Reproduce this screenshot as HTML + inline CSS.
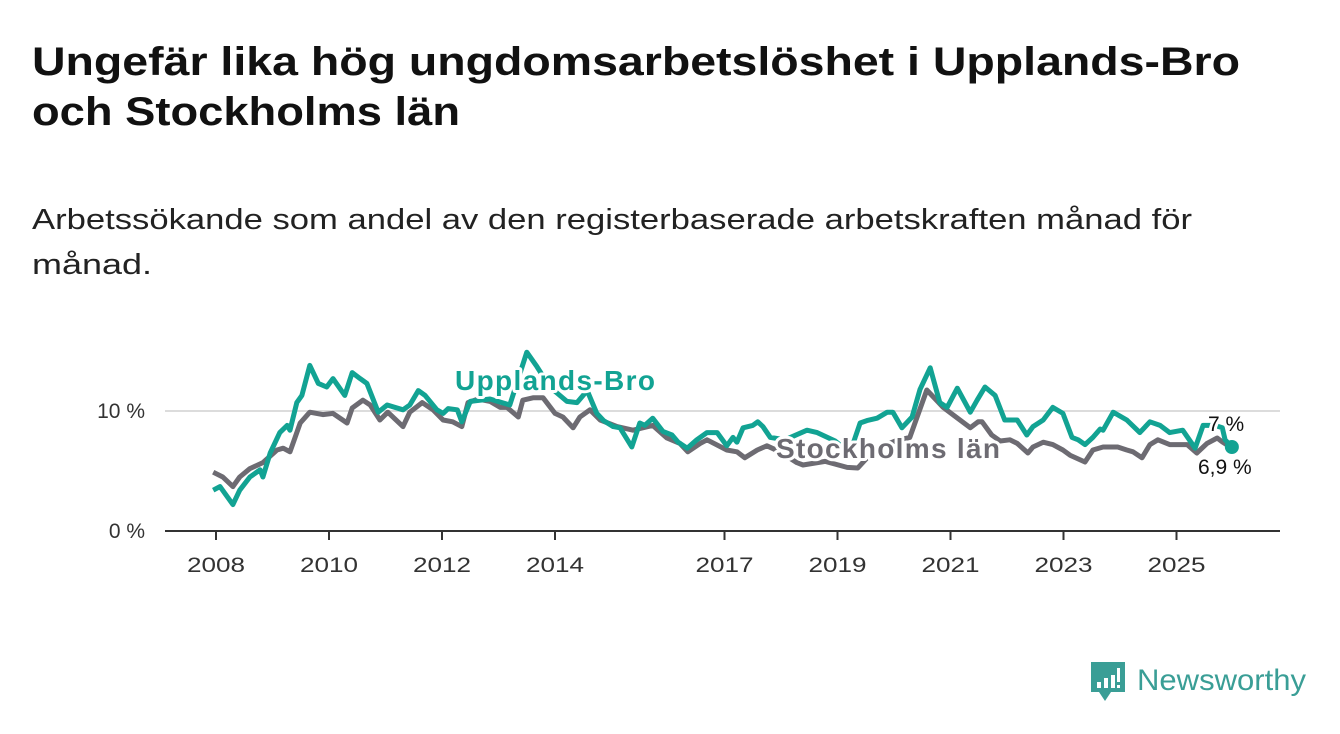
<!DOCTYPE html>
<html><head><meta charset="utf-8"><style>
html,body{margin:0;padding:0;background:#fff;}
svg{display:block;font-family:"Liberation Sans",sans-serif;}
</style></head><body>
<svg id="chart" width="1340" height="734" viewBox="0 0 1340 734" xmlns="http://www.w3.org/2000/svg">
<text x="32" y="75" font-size="40" font-weight="bold" fill="#111" textLength="1208" lengthAdjust="spacingAndGlyphs">Ungefär lika hög ungdomsarbetslöshet i Upplands-Bro</text>
<text x="32" y="125" font-size="40" font-weight="bold" fill="#111" textLength="428" lengthAdjust="spacingAndGlyphs">och Stockholms län</text>
<text x="32" y="229" font-size="29" fill="#222" textLength="1160" lengthAdjust="spacingAndGlyphs">Arbetssökande som andel av den registerbaserade arbetskraften månad för</text>
<text x="32" y="274" font-size="29" fill="#222" textLength="120" lengthAdjust="spacingAndGlyphs">månad.</text>
<g id="plot"></g>
<g>
<path d="M1091 662 h34 v30 h-14 l-6 9 l-6 -9 h-8 z" fill="#3a9e96"/>
<rect x="1097" y="682" width="4" height="6" fill="#fff"/><rect x="1104" y="678" width="4" height="10" fill="#fff"/><rect x="1111" y="675" width="4" height="13" fill="#fff"/><rect x="1117" y="668" width="3" height="14" fill="#fff"/><rect x="1117" y="685" width="3" height="3" fill="#fff"/>
<text x="1137" y="690" font-size="30" fill="#3a9e96" textLength="169" lengthAdjust="spacingAndGlyphs">Newsworthy</text>
</g>
</svg>
<script>
const xTickYears = [2008, 2010, 2012, 2014, 2017, 2019, 2021, 2023, 2025];
const yTicks = [0, 10];
const yTickLabels = ["0 %", "10 %"];
const uppDates = [2007.95,2008.07,2008.30,2008.42,2008.60,2008.78,2008.83,2008.96,2009.13,2009.26,2009.31,2009.43,2009.52,2009.66,2009.81,2009.96,2010.07,2010.28,2010.41,2010.55,2010.67,2010.87,2011.03,2011.31,2011.43,2011.58,2011.70,2011.91,2012.02,2012.11,2012.27,2012.35,2012.50,2012.85,2013.20,2013.50,2013.68,2013.91,2014.21,2014.39,2014.57,2014.74,2014.86,2015.03,2015.15,2015.36,2015.50,2015.59,2015.73,2015.91,2016.07,2016.18,2016.34,2016.51,2016.69,2016.87,2017.04,2017.15,2017.22,2017.33,2017.50,2017.59,2017.68,2017.81,2018.07,2018.46,2018.64,2018.96,2019.22,2019.40,2019.52,2019.70,2019.88,2019.98,2020.14,2020.32,2020.46,2020.64,2020.81,2020.94,2021.12,2021.35,2021.47,2021.61,2021.79,2021.96,2022.18,2022.35,2022.46,2022.64,2022.81,2022.99,2023.15,2023.26,2023.38,2023.52,2023.65,2023.70,2023.88,2024.12,2024.35,2024.53,2024.71,2024.88,2025.11,2025.33,2025.47,2025.56,2025.68,2025.81,2025.86,2025.98];
const uppValues = [3.4,3.7,2.2,3.4,4.5,5.1,4.5,6.5,8.2,8.8,8.4,10.7,11.3,13.8,12.3,12.0,12.7,11.3,13.2,12.7,12.3,9.9,10.5,10.1,10.5,11.7,11.3,10.1,9.8,10.2,10.1,9.1,10.8,11.0,10.5,14.9,13.7,12.0,10.8,10.7,11.7,9.8,9.2,8.7,8.6,7.0,9.0,8.8,9.4,8.3,8.0,7.4,6.9,7.6,8.2,8.2,7.1,7.8,7.4,8.6,8.8,9.1,8.7,7.8,7.6,8.4,8.2,7.5,6.5,9.0,9.2,9.4,9.9,9.9,8.6,9.5,11.8,13.6,10.7,10.3,11.9,9.9,10.9,12.0,11.3,9.25,9.25,8.0,8.7,9.25,10.3,9.8,7.8,7.6,7.2,7.8,8.5,8.4,9.9,9.25,8.2,9.1,8.8,8.2,8.4,6.9,8.8,8.8,8.8,8.6,7.6,7.0];
const stoDates = [2007.95,2008.12,2008.30,2008.42,2008.60,2008.83,2009.08,2009.19,2009.31,2009.49,2009.66,2009.89,2010.07,2010.32,2010.41,2010.60,2010.73,2010.90,2011.04,2011.31,2011.43,2011.65,2011.84,2012.02,2012.19,2012.35,2012.46,2012.64,2012.85,2013.03,2013.15,2013.35,2013.43,2013.61,2013.79,2014.00,2014.14,2014.32,2014.44,2014.62,2014.80,2015.10,2015.38,2015.73,2015.98,2016.21,2016.35,2016.57,2016.69,2017.04,2017.22,2017.36,2017.58,2017.75,2017.98,2018.28,2018.39,2018.78,2019.17,2019.36,2019.66,2020.02,2020.28,2020.58,2020.87,2021.04,2021.35,2021.49,2021.56,2021.73,2021.88,2022.05,2022.18,2022.37,2022.46,2022.64,2022.81,2022.99,2023.12,2023.38,2023.52,2023.70,2023.96,2024.12,2024.23,2024.39,2024.53,2024.67,2024.88,2025.19,2025.36,2025.54,2025.72,2025.82,2025.95];
const stoValues = [4.9,4.5,3.7,4.5,5.2,5.7,6.75,6.9,6.6,9.0,9.9,9.7,9.8,9.0,10.25,10.9,10.5,9.25,9.9,8.7,9.9,10.7,10.1,9.25,9.1,8.7,10.7,11.0,10.8,10.3,10.3,9.5,10.9,11.1,11.1,9.8,9.5,8.6,9.5,10.1,9.25,8.7,8.4,8.8,7.75,7.3,6.6,7.3,7.6,6.75,6.6,6.1,6.75,7.1,6.6,5.7,5.5,5.8,5.3,5.25,6.8,7.5,7.8,11.75,10.3,9.7,8.6,9.1,9.1,8.0,7.5,7.6,7.3,6.5,7.0,7.4,7.2,6.75,6.3,5.75,6.75,7.0,7.0,6.75,6.6,6.1,7.2,7.6,7.2,7.2,6.5,7.3,7.75,7.4,7.0];
const lastLabels = ["7 %", "6,9 %"];

const NS = "http://www.w3.org/2000/svg";
const plot = document.getElementById("plot");
const xScale = y => 216 + (y - 2008) * 56.5;
const yScale = v => 531 - v * 12;
function mk(tag, attrs){const e=document.createElementNS(NS,tag);for(const k in attrs)e.setAttribute(k,attrs[k]);plot.appendChild(e);return e;}

yTicks.forEach((t,i)=>{
  if(t>0){const g=mk("line",{x1:165,x2:1280,y1:yScale(t),y2:yScale(t),stroke:"#dcdcdc","stroke-width":2});
  
  }
  const l=mk("text",{x:145,y:yScale(t)+7,"text-anchor":"end","font-size":21,fill:"#333"});
  l.textContent=yTickLabels[i];
  
  
});
const ax=mk("line",{x1:165,x2:1280,y1:531,y2:531,stroke:"#333","stroke-width":2});


xTickYears.forEach(yr=>{
  const t=mk("line",{x1:xScale(yr),x2:xScale(yr),y1:531,y2:540,stroke:"#333","stroke-width":2});
  
  
  const l=mk("text",{x:xScale(yr),y:572,"text-anchor":"middle","font-size":21,fill:"#333",textLength:58,lengthAdjust:"spacingAndGlyphs"});
  l.textContent=yr;
  
  
});
function line(d,v,color,name){
  const p=mk("path",{d:d.map((x,i)=>(i?"L":"M")+xScale(x).toFixed(1)+","+yScale(v[i]).toFixed(1)).join(""),fill:"none",stroke:color,"stroke-width":5,"stroke-linejoin":"round"});
  
  
}
line(stoDates,stoValues,"#6d6b72","stockholm-line");
line(uppDates,uppValues,"#12a393","upplands-bro-line");
const n=uppDates.length-1;
const dot=mk("circle",{cx:xScale(uppDates[n]),cy:yScale(uppValues[n]),r:7,fill:"#12a393"});


function lab(x,y,txt,color,size,weight,name){
  const t=mk("text",{x:x,y:y,"font-size":size,"font-weight":weight,fill:color,stroke:"#fff","stroke-width":6,"paint-order":"stroke","stroke-linejoin":"round"});
  t.textContent=txt;
  
  
  return t;
}
lab(455,390,"Upplands-Bro","#12a393",28,"bold","upplands-bro-label").setAttribute("textLength","200");
lab(776,458,"Stockholms län","#6d6b72",28,"bold","stockholm-label").setAttribute("textLength","224");
lab(1208,431,lastLabels[0],"#111",21,"normal","last-value-upplands-bro");
lab(1198,474,lastLabels[1],"#111",21,"normal","last-value-stockholm");
</script>
</body></html>
